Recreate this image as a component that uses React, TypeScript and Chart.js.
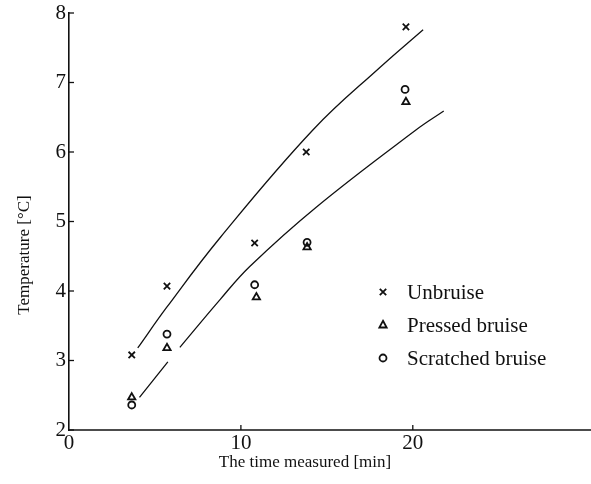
import React, { useEffect, useRef } from "react";
import { Chart, registerables } from "chart.js";
Chart.register(...registerables);

// ---- data ----
const unbruiseX = [3.65, 5.7, 10.8, 13.8, 19.6];
const unbruiseY = [3.08, 4.07, 4.69, 6.0, 7.8];
const pressedX = [3.65, 5.7, 10.9, 13.85, 19.6];
const pressedY = [2.47, 3.18, 3.91, 4.63, 6.72];
const scratchedX = [3.65, 5.7, 10.8, 13.85, 19.55];
const scratchedY = [2.36, 3.38, 4.09, 4.7, 6.9];

const upperCurveX = [4.0, 5.7, 8.8, 14.2, 18.1, 20.6];
const upperCurveY = [3.18, 3.77, 4.77, 6.32, 7.22, 7.76];
const lowerCurveAX = [4.1, 5.75];
const lowerCurveAY = [2.47, 2.98];
const lowerCurveBX = [6.45, 8.8, 10.5, 14.4, 20.2, 21.8];
const lowerCurveBY = [3.19, 3.88, 4.35, 5.21, 6.32, 6.59];

const xTickValues = [0, 10, 20];
const yTickValues = [2, 3, 4, 5, 6, 7, 8];
const legendLabels = ["Unbruise", "Pressed bruise", "Scratched bruise"];
const xTitle = "The time measured [min]";
const yTitle = "Temperature [°C]";

const INK = "#111";
const SERIF = "'Liberation Serif', 'DejaVu Serif', serif";

const zip = (xs: number[], ys: number[]) => xs.map((x, i) => ({ x, y: ys[i] }));

function drawMarker(ctx: CanvasRenderingContext2D, kind: string, cx: number, cy: number) {
  ctx.beginPath();
  if (kind === "cross") {
    const r = 3.2;
    ctx.moveTo(cx - r, cy - r); ctx.lineTo(cx + r, cy + r);
    ctx.moveTo(cx + r, cy - r); ctx.lineTo(cx - r, cy + r);
  } else if (kind === "tri") {
    const r = 4.2;
    ctx.moveTo(cx, cy - r); ctx.lineTo(cx + r * 0.87, cy + r * 0.6); ctx.lineTo(cx - r * 0.87, cy + r * 0.6); ctx.closePath();
  } else {
    ctx.arc(cx, cy, 3.5, 0, Math.PI * 2);
  }
  ctx.stroke();
}

const overlay = {
  id: "overlay",
  afterDraw(chart: any) {
    const { ctx, chartArea, scales } = chart;
    const xs = scales.x, ys = scales.y;
    ctx.save();
    ctx.strokeStyle = INK;
    ctx.fillStyle = INK;
    // bottom axis line running to the right edge
    ctx.lineWidth = 1.6;
    ctx.beginPath(); ctx.moveTo(chartArea.left - 1, chartArea.bottom); ctx.lineTo(chart.width, chartArea.bottom); ctx.stroke();
    ctx.lineWidth = 1.3;
    // inward tick marks
    yTickValues.forEach((v) => {
      const py = ys.getPixelForValue(v);
      ctx.beginPath(); ctx.moveTo(chartArea.left, py); ctx.lineTo(chartArea.left + 5, py); ctx.stroke();
    });
    xTickValues.forEach((v) => {
      if (v === 0) return;
      const px = xs.getPixelForValue(v);
      ctx.beginPath(); ctx.moveTo(px, chartArea.bottom); ctx.lineTo(px, chartArea.bottom - 5); ctx.stroke();
    });
    // legend
    const kinds = ["cross", "tri", "circle"];
    const lx = chartArea.left + 314;
    const rows = [279, 312, 345];
    ctx.lineWidth = 1.8;
    ctx.font = `21px ${SERIF}`;
    ctx.textBaseline = "middle";
    ctx.textAlign = "left";
    kinds.forEach((k, i) => {
      const cy = chartArea.top + rows[i];
      drawMarker(ctx, k, lx, cy);
      ctx.fillText(legendLabels[i], lx + 24, cy + 1);
    });
    // axis titles
    ctx.font = `17px ${SERIF}`;
    ctx.textAlign = "center";
    ctx.fillText(xTitle, 305, 463);
    ctx.translate(25, 255);
    ctx.rotate(-Math.PI / 2);
    ctx.fillText(yTitle, 0, 0);
    ctx.restore();
  },
};

export default function App() {
  const ref = useRef<HTMLCanvasElement | null>(null);
  useEffect(() => {
    if (!ref.current) return;
    const markerCommon = { showLine: false, borderColor: INK, backgroundColor: "rgba(0,0,0,0)", pointBorderWidth: 1.8 };
    const curveCommon = {
      showLine: true, borderColor: INK, borderWidth: 1.3, pointRadius: 0,
      tension: 0.4, fill: false,
    };
    const chart = new Chart(ref.current, {
      type: "scatter",
      data: {
        datasets: [
          { ...markerCommon, label: legendLabels[0], data: zip(unbruiseX, unbruiseY), pointStyle: "crossRot", pointRadius: 4.5 },
          { ...markerCommon, label: legendLabels[1], data: zip(pressedX, pressedY), pointStyle: "triangle", pointRadius: 4.2 },
          { ...markerCommon, label: legendLabels[2], data: zip(scratchedX, scratchedY), pointStyle: "circle", pointRadius: 3.5 },
          { ...curveCommon, label: "upper", data: zip(upperCurveX, upperCurveY) },
          { ...curveCommon, label: "lowerA", data: zip(lowerCurveAX, lowerCurveAY) },
          { ...curveCommon, label: "lowerB", data: zip(lowerCurveBX, lowerCurveBY) },
        ] as any,
      },
      options: {
        animation: false,
        responsive: false,
        maintainAspectRatio: false,
        layout: { padding: { top: 13, right: 0, left: 0, bottom: 0 } },
        plugins: { legend: { display: false }, tooltip: { enabled: false } },
        scales: {
          x: {
            type: "linear",
            min: 0,
            max: 30,
            grid: { display: false, drawTicks: false },
            border: { display: false },
            afterBuildTicks: (s: any) => { s.ticks = xTickValues.map((v) => ({ value: v })); },
            afterFit: (s: any) => { s.height = 54; s.paddingRight = 0; s.paddingLeft = 0; },
            ticks: { color: INK, font: { family: SERIF, size: 21 }, padding: 1, maxRotation: 0 },
          },
          y: {
            type: "linear",
            min: 2,
            max: 8,
            grid: { display: false, drawTicks: false },
            border: { display: true, color: INK, width: 1.6 },
            afterBuildTicks: (s: any) => { s.ticks = yTickValues.map((v) => ({ value: v })); },
            afterFit: (s: any) => { s.width = 69; s.paddingTop = 0; s.paddingBottom = 0; },
            ticks: { color: INK, font: { family: SERIF, size: 21 }, padding: 3 },
          },
        },
      },
      plugins: [overlay],
    });
    return () => chart.destroy();
  }, []);
  return (
    <div style={{ position: "absolute", left: 0, top: 0, width: 591, height: 484, background: "#fff" }}>
      <canvas ref={ref} width={591} height={484} style={{ display: "block" }} />
    </div>
  );
}
